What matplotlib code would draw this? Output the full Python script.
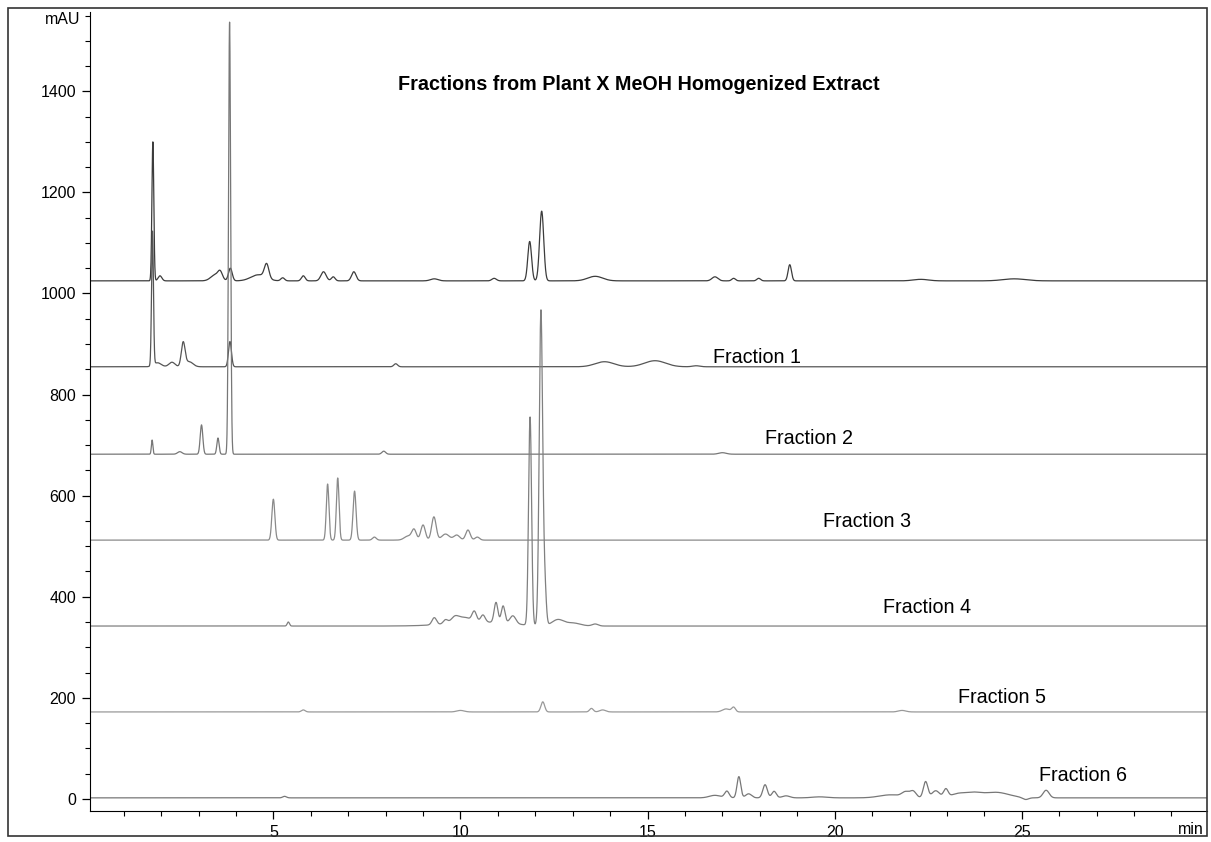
import numpy as np
import matplotlib
matplotlib.use('Agg')
import matplotlib.pyplot as plt
from matplotlib.patches import Rectangle
from matplotlib.ticker import MultipleLocator

plt.rcParams['font.family'] = ['Liberation Sans', 'DejaVu Sans']

# ===== peak tables (min, height above baseline mAU, width min) =====

trace_names = ['Extract', 'Fraction 1', 'Fraction 2', 'Fraction 3',
               'Fraction 4', 'Fraction 5', 'Fraction 6']
baselines = [1025, 855, 682, 512, 342, 172, 2]

extract_t = [1.78, 1.97, 3.45, 3.58, 3.85, 4.6, 4.82, 5.25, 5.8, 6.34, 6.6, 7.15,
             9.3, 10.9, 11.85, 12.17, 13.6, 16.8, 17.3, 17.97, 18.8, 22.3, 24.8]
extract_h = [275, 10, 12, 14, 25, 12, 28, 6, 10, 18, 8, 18,
             4, 5, 78, 138, 9, 8, 5, 5, 32, 3, 4]
extract_w = [0.025, 0.05, 0.12, 0.06, 0.05, 0.2, 0.06, 0.05, 0.05, 0.07, 0.05, 0.06,
             0.1, 0.06, 0.05, 0.055, 0.2, 0.08, 0.05, 0.05, 0.045, 0.2, 0.3]

f1_t = [1.77, 1.9, 2.29, 2.59, 2.75, 3.84, 8.27, 13.85, 15.2, 16.3]
f1_h = [265, 8, 9, 47, 10, 50, 6, 10, 12, 2]
f1_w = [0.025, 0.1, 0.08, 0.05, 0.1, 0.04, 0.05, 0.25, 0.28, 0.1]

f2_t = [1.76, 2.5, 3.08, 3.52, 3.83, 7.95, 17.0]
f2_h = [28, 5, 58, 32, 855, 6, 3]
f2_w = [0.02, 0.06, 0.035, 0.03, 0.028, 0.05, 0.1]

f3_t = [5.0, 6.45, 6.72, 7.17, 7.7, 8.6, 8.76, 9.0, 9.29, 9.6, 9.9, 10.2, 10.45]
f3_h = [81, 111, 123, 97, 6, 8, 20, 30, 46, 12, 10, 20, 6]
f3_w = [0.04, 0.035, 0.035, 0.04, 0.05, 0.1, 0.06, 0.06, 0.06, 0.1, 0.08, 0.06, 0.06]

f4_t = [5.4, 9.3, 9.6, 9.85, 10.1, 10.37, 10.6, 10.5, 10.95, 11.14, 11.4,
        11.86, 12.15, 12.25, 12.6, 13.0, 13.6]
f4_h = [8, 14, 8, 12, 10, 20, 14, 8, 40, 34, 16,
        412, 621, 80, 12, 6, 4]
f4_w = [0.03, 0.06, 0.06, 0.1, 0.15, 0.06, 0.06, 0.8, 0.05, 0.05, 0.08,
        0.04, 0.045, 0.04, 0.15, 0.2, 0.08]

f5_t = [5.8, 10.0, 12.2, 13.5, 13.8, 17.1, 17.3, 21.8]
f5_h = [4, 3, 20, 7, 4, 6, 9, 3]
f5_w = [0.05, 0.1, 0.05, 0.05, 0.08, 0.1, 0.05, 0.1]

f6_t = [5.3, 16.8, 17.12, 17.44, 17.7, 18.14, 18.38, 18.7, 19.6, 21.5, 21.9,
        22.1, 22.43, 22.7, 22.97, 23.3, 23.7, 24.3, 25.1, 25.65]
f6_h = [3, 5, 13, 42, 8, 26, 13, 4, 2, 6, 10,
        12, 32, 14, 16, 8, 8, 11, -4, 15]
f6_w = [0.05, 0.15, 0.06, 0.05, 0.08, 0.06, 0.06, 0.1, 0.2, 0.3, 0.1,
        0.08, 0.06, 0.1, 0.06, 0.2, 0.2, 0.35, 0.08, 0.08]

peak_tables = [(extract_t, extract_h, extract_w), (f1_t, f1_h, f1_w), (f2_t, f2_h, f2_w),
               (f3_t, f3_h, f3_w), (f4_t, f4_h, f4_w), (f5_t, f5_h, f5_w), (f6_t, f6_h, f6_w)]
trace_colors = ['#3c3c3c', '#555555', '#777777', '#8a8a8a', '#808080', '#999999', '#777777']

# label positions (min, mAU)
label_x = [16.74, 18.15, 19.68, 21.28, 23.29, 25.45]
label_y = [874, 714, 548, 378, 200, 47]

title = 'Fractions from Plant X MeOH Homogenized Extract'

# ===== build and draw =====

t = np.linspace(0, 30, 9000)

fig = plt.figure(figsize=(12.11, 8.42), dpi=100)
ax = fig.add_axes([90 / 1211, 1 - 811 / 842, 1117 / 1211, 799 / 842])

for (pt, ph, pw), base, col in zip(peak_tables, baselines, trace_colors):
    y = np.full_like(t, float(base))
    for c, h, w in zip(pt, ph, pw):
        y += h * np.exp(-0.5 * ((t - c) / w) ** 2)
    ax.plot(t, y, color=col, lw=0.9)

for name, lx, ly in zip(trace_names[1:], label_x, label_y):
    ax.text(lx, ly, name, fontsize=14.2, ha='left', va='center')

ax.text(14.76, 1414, title, fontsize=14.2, fontweight='bold', ha='center', va='center')

ax.set_xlim(0.1, 29.95)
ax.set_ylim(-24, 1557)

ax.xaxis.set_major_locator(MultipleLocator(5))
ax.xaxis.set_minor_locator(MultipleLocator(1))
ax.yaxis.set_major_locator(MultipleLocator(200))
ax.yaxis.set_minor_locator(MultipleLocator(50))
ax.tick_params(which='major', direction='out', length=6, width=0.9, labelsize=11.5, pad=4)
ax.tick_params(which='minor', direction='out', length=3.5, width=0.8)

ax.spines['top'].set_visible(False)
ax.spines['right'].set_visible(False)

# axis unit labels
fig.text(80 / 1211, 1 - 20 / 842, 'mAU', fontsize=11.5, ha='right', va='center')
fig.text(1204 / 1211, 1 - 829 / 842, 'min', fontsize=11.5, ha='right', va='center')

# outer frame around the whole printout
fig.patches.append(Rectangle((8 / 1211, 6 / 842), 1199 / 1211, 828 / 842,
                             transform=fig.transFigure, fill=False,
                             edgecolor='#333333', lw=1.2))

fig.savefig('out.png', dpi=100)
